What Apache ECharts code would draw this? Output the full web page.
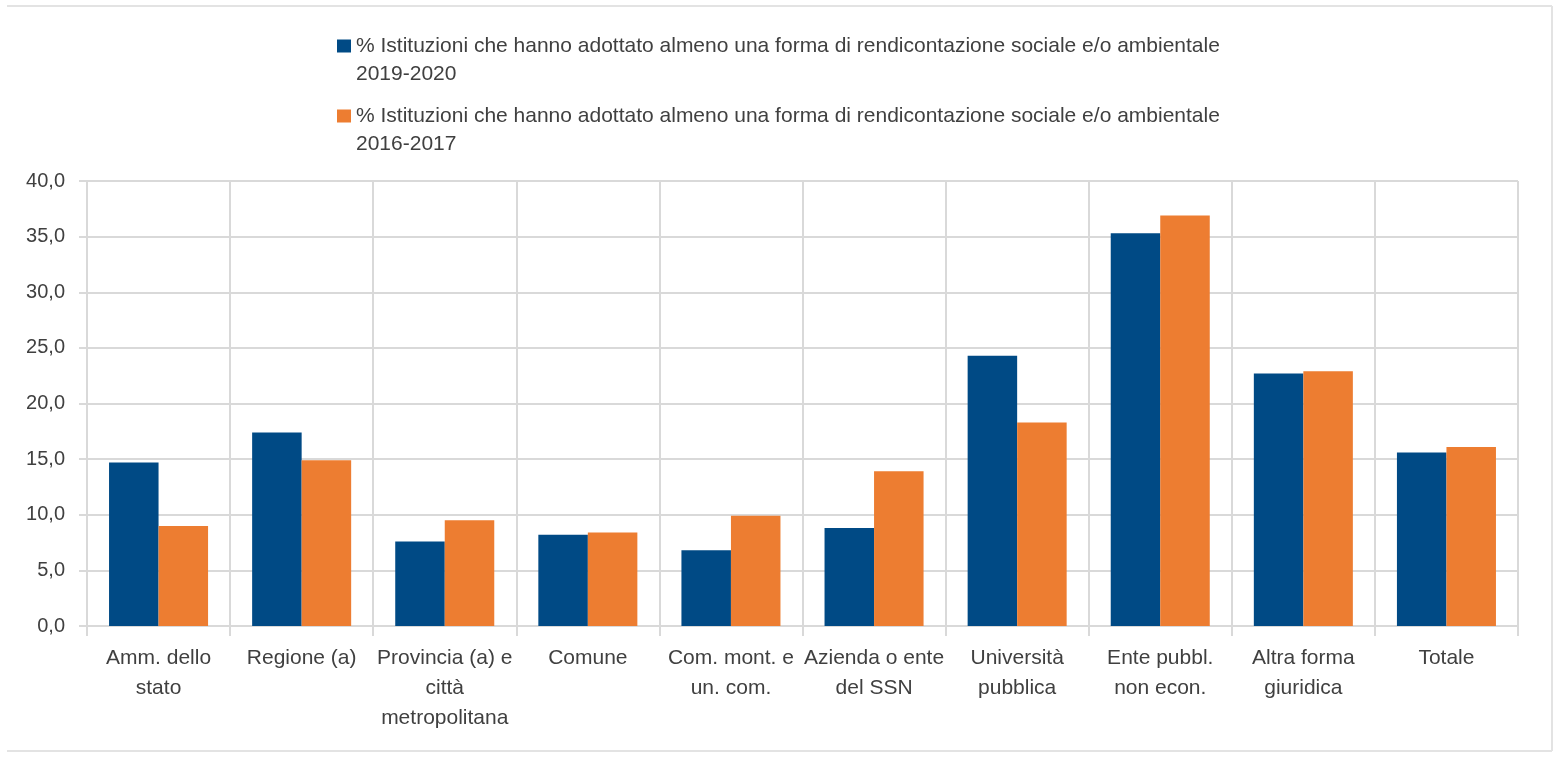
<!DOCTYPE html>
<html lang="it">
<head>
    <meta charset="UTF-8">
    <title>Rendicontazione sociale e/o ambientale</title>
    <style>
        body { margin: 0; overflow: hidden; background: #fff; }
        #chart { width: 1553px; height: 762px; }
    </style>
</head>
<body>
    <div id="chart"></div>
    <script src="https://cdn.jsdelivr.net/npm/echarts@6/dist/echarts.min.js"></script>
    <script>
        // categorie (asse x)
        var categories = [
            'Amm. dello\nstato',
            'Regione (a)',
            'Provincia (a) e\ncittà\nmetropolitana',
            'Comune',
            'Com. mont. e\nun. com.',
            'Azienda o ente\ndel SSN',
            'Università\npubblica',
            'Ente pubbl.\nnon econ.',
            'Altra forma\ngiuridica',
            'Totale'
        ];
        var seriesNames = [
            '% Istituzioni che hanno adottato almeno una forma di rendicontazione sociale e/o ambientale\n2019-2020',
            '% Istituzioni che hanno adottato almeno una forma di rendicontazione sociale e/o ambientale\n2016-2017'
        ];
        var values2019 = [14.7, 17.4, 7.6, 8.2, 6.8, 8.8, 24.3, 35.3, 22.7, 15.6];
        var values2016 = [9.0, 14.9, 9.5, 8.4, 9.9, 13.9, 18.3, 36.9, 22.9, 16.1];

        var gridColor = '#d9d9d9';
        var textColor = '#404040';

        var myChart = echarts.init(document.getElementById('chart'));
        var option = {
            animation: false,
            textStyle: { fontFamily: 'Liberation Sans, Arial, sans-serif' },
            legend: {
                orient: 'vertical',
                left: 337,
                top: 4,
                padding: 0,
                itemWidth: 14,
                itemHeight: 13,
                itemGap: -14,
                icon: 'rect',
                // riga vuota in testa: cosi' il quadratino sta sulla prima riga
                formatter: function (name) { return '\n' + name; },
                textStyle: {
                    fontSize: 21,
                    color: textColor,
                    lineHeight: 28
                },
                data: seriesNames
            },
            grid: {
                left: 87,
                right: 35,
                top: 181,
                bottom: 136
            },
            xAxis: {
                type: 'category',
                data: categories,
                boundaryGap: true,
                axisLine: { lineStyle: { color: gridColor, width: 2 } },
                axisTick: { show: true, length: 10, lineStyle: { color: gridColor, width: 2 } },
                splitLine: { show: true, lineStyle: { color: gridColor, width: 2 } },
                axisLabel: {
                    interval: 0,
                    fontSize: 21,
                    color: textColor,
                    lineHeight: 30,
                    margin: 17
                }
            },
            yAxis: {
                type: 'value',
                min: 0,
                max: 40,
                interval: 5,
                axisLine: { show: false },
                axisTick: { show: true, length: 8, lineStyle: { color: gridColor, width: 2 } },
                splitLine: { lineStyle: { color: gridColor, width: 2 } },
                axisLabel: {
                    fontSize: 20,
                    color: textColor,
                    margin: 22,
                    formatter: function (v) { return v.toFixed(1).replace('.', ','); }
                }
            },
            series: [
                {
                    name: seriesNames[0],
                    type: 'bar',
                    data: values2019,
                    barWidth: '34.6%',
                    barGap: '0%',
                    itemStyle: { color: '#004a85' }
                },
                {
                    name: seriesNames[1],
                    type: 'bar',
                    data: values2016,
                    barWidth: '34.6%',
                    itemStyle: { color: '#ed7d31' }
                }
            ],
            graphic: [
                // cornice dell'immagine
                { type: 'line', shape: { x1: 7, y1: 6, x2: 1552, y2: 6 }, style: { stroke: '#e3e3e3', lineWidth: 2 } },
                { type: 'line', shape: { x1: 1552, y1: 6, x2: 1552, y2: 751 }, style: { stroke: '#e3e3e3', lineWidth: 2 } },
                { type: 'line', shape: { x1: 7, y1: 751, x2: 1552, y2: 751 }, style: { stroke: '#e3e3e3', lineWidth: 2 } }
            ]
        };
        myChart.setOption(option);
    </script>
</body>
</html>
